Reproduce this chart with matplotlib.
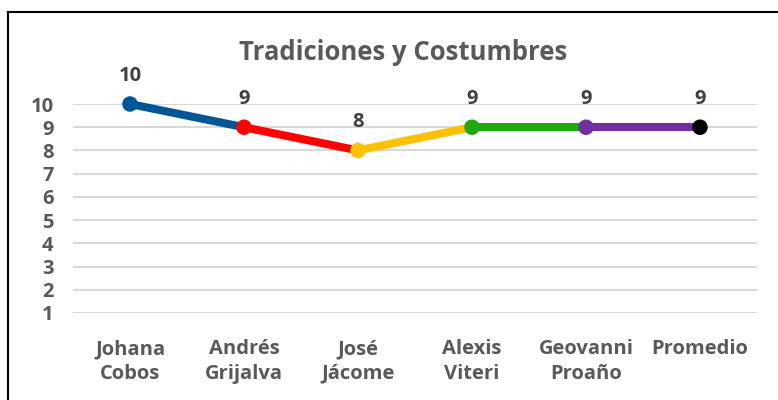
import matplotlib.pyplot as plt
from matplotlib.lines import Line2D

# Calificaciones de Tradiciones y Costumbres
nombres = ["Johana\nCobos", "Andrés\nGrijalva", "José\nJácome", "Alexis\nViteri", "Geovanni\nProaño", "Promedio"]
notas = [10, 9, 8, 9, 9, 9]
colores = ["#005597", "#FF0000", "#FFC000", "#1FA80F", "#7030A0", "#000000"]

plt.rcParams['font.family'] = ['Open Sans', 'DejaVu Sans']
plt.rcParams['font.weight'] = 'bold'

gris = "#595959"

fig = plt.figure(figsize=(7.78, 4.0), dpi=100)
ax = fig.add_axes([73 / 778, 1 - 313 / 400, (757 - 73) / 778, (313 - 104) / 400])

x = list(range(len(notas)))

# cada tramo toma el color del punto donde empieza
for i in range(len(notas) - 1):
    ax.plot(x[i:i + 2], notas[i:i + 2], color=colores[i], lw=5.8,
            solid_capstyle='round', zorder=3, clip_on=False)
ax.scatter(x, notas, s=125, c=colores, zorder=4, clip_on=False, linewidths=0)

for xi, yi in zip(x, notas):
    ax.annotate(str(yi), (xi, yi), xytext=(0, 13), textcoords='offset points',
                ha='center', va='bottom', fontsize=14.5, fontweight='bold',
                color="#404040", annotation_clip=False)

ax.set_xlim(-0.5, len(notas) - 0.5)
ax.set_ylim(1, 10)
ax.set_yticks(range(1, 11))
ax.set_xticks(x)
ax.set_xticklabels(nombres, linespacing=1.3)
ax.tick_params(axis='both', length=0, labelsize=14.5, labelcolor=gris)
ax.tick_params(axis='x', pad=19)
ax.tick_params(axis='y', pad=14)
for lab in ax.get_xticklabels() + ax.get_yticklabels():
    lab.set_fontweight('bold')

ax.grid(axis='y', color="#D9D9D9", lw=1.5)
ax.set_axisbelow(True)
for s in ax.spines.values():
    s.set_visible(False)

fig.text(403 / 778, 1 - 53 / 400, "Tradiciones y Costumbres", ha='center', va='center',
         fontsize=18.5, fontweight='bold', color=gris)

# marco del gráfico
fig.add_artist(Line2D([8 / 778, 1], [1 - 12 / 400] * 2, color='black', lw=1.5))
fig.add_artist(Line2D([8 / 778] * 2, [0, 1 - 12 / 400], color='black', lw=1.5))

fig.savefig("out.png", dpi=100)
